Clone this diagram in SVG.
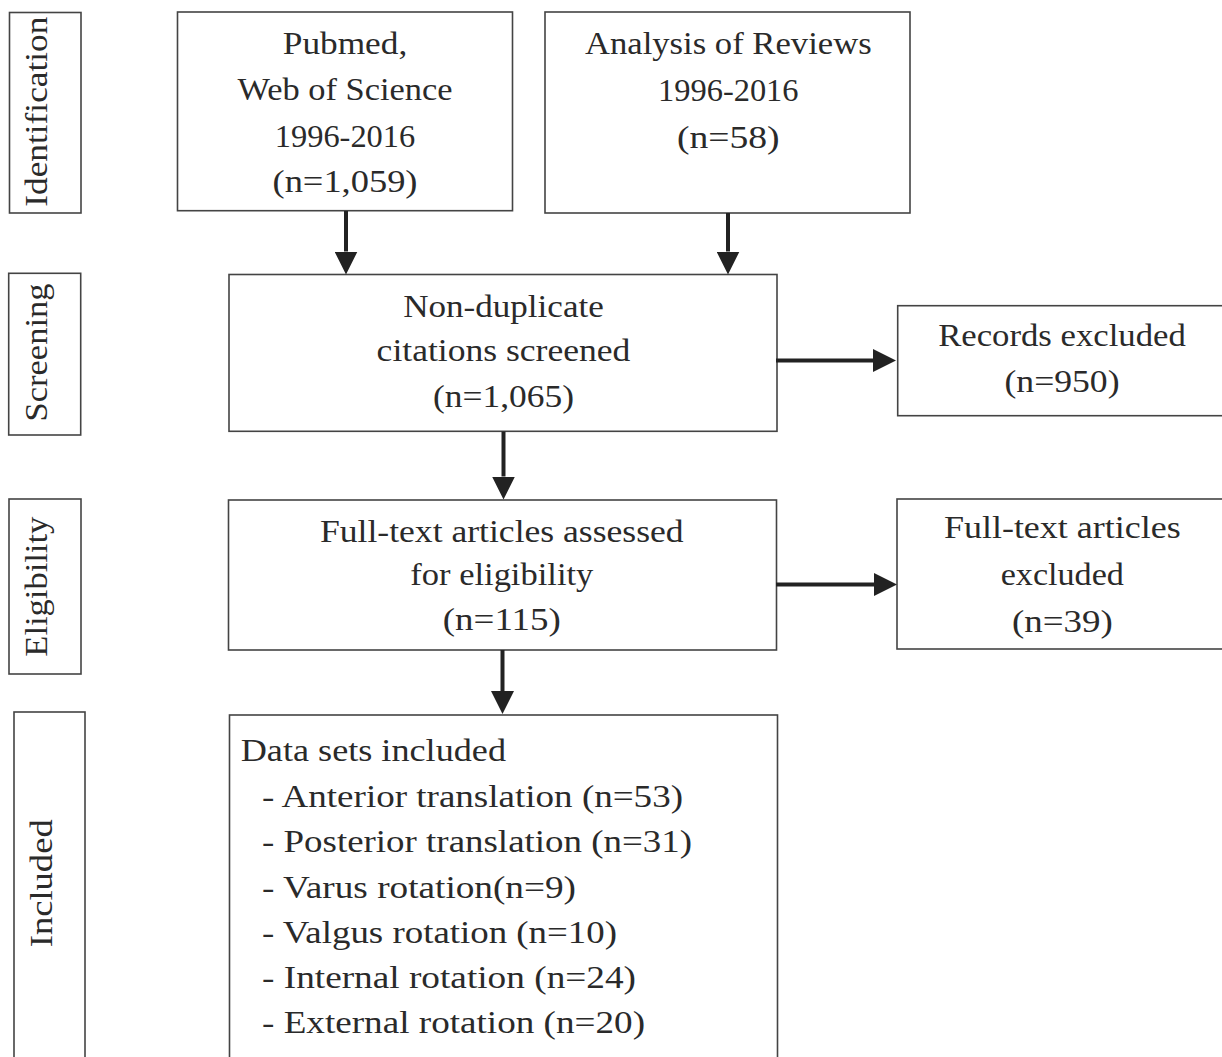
<svg xmlns="http://www.w3.org/2000/svg" width="1222" height="1057" viewBox="0 0 1222 1057">
<style>
  rect.box { fill: none; stroke: #444; stroke-width: 1.6; }
  text { font-family: "Liberation Serif", "Times New Roman", serif; font-size: 32.5px; fill: #2a2a2a; }
  text.c { text-anchor: middle; }
  line.conn { stroke: #222; stroke-width: 4; }
</style>
<defs>
  <marker id="ah" markerUnits="userSpaceOnUse" markerWidth="23" markerHeight="23" viewBox="0 0 23 23" refX="0" refY="11.5" orient="auto">
    <path d="M0,0 L23,11.5 L0,23 Z" fill="#222"/>
  </marker>
</defs>
<rect x="0" y="0" width="1222" height="1057" fill="#fff"/>

<g id="lab-identification">
  <rect class="box" x="9.5" y="12.5" width="71.5" height="200.5"/>
  <text class="c" transform="translate(47,111.7) rotate(-90)" textLength="190" lengthAdjust="spacingAndGlyphs">Identification</text>
</g>
<g id="lab-screening">
  <rect class="box" x="8.7" y="273.3" width="72" height="161.7"/>
  <text class="c" transform="translate(47,352.5) rotate(-90)" textLength="138" lengthAdjust="spacingAndGlyphs">Screening</text>
</g>
<g id="lab-eligibility">
  <rect class="box" x="9" y="499" width="72" height="175"/>
  <text class="c" transform="translate(47,586.7) rotate(-90)" textLength="140" lengthAdjust="spacingAndGlyphs">Eligibility</text>
</g>
<g id="lab-included">
  <rect class="box" x="14" y="712" width="71" height="360"/>
  <text class="c" transform="translate(51.7,883.3) rotate(-90)" textLength="128" lengthAdjust="spacingAndGlyphs">Included</text>
</g>

<g id="node-pubmed">
  <rect class="box" x="177.5" y="12" width="335" height="198.7"/>
  <text class="c" x="345" y="54" textLength="124.5" lengthAdjust="spacingAndGlyphs">Pubmed,</text>
  <text class="c" x="345" y="100" textLength="215" lengthAdjust="spacingAndGlyphs">Web of Science</text>
  <text class="c" x="345" y="146.5" textLength="140.5" lengthAdjust="spacingAndGlyphs">1996-2016</text>
  <text class="c" x="345" y="192" textLength="145" lengthAdjust="spacingAndGlyphs">(n=1,059)</text>
</g>
<g id="node-analysis">
  <rect class="box" x="545" y="12" width="365" height="201"/>
  <text class="c" x="728.3" y="54" textLength="286.7" lengthAdjust="spacingAndGlyphs">Analysis of Reviews</text>
  <text class="c" x="728.3" y="101" textLength="140.5" lengthAdjust="spacingAndGlyphs">1996-2016</text>
  <text class="c" x="728.3" y="147.5" textLength="102.7" lengthAdjust="spacingAndGlyphs">(n=58)</text>
</g>
<g id="node-screened">
  <rect class="box" x="229" y="274.5" width="548" height="156.8"/>
  <text class="c" x="503.5" y="316.7" textLength="200.6" lengthAdjust="spacingAndGlyphs">Non-duplicate</text>
  <text class="c" x="503.5" y="361" textLength="253.8" lengthAdjust="spacingAndGlyphs">citations screened</text>
  <text class="c" x="503.5" y="406.7" textLength="141" lengthAdjust="spacingAndGlyphs">(n=1,065)</text>
</g>
<g id="node-records-excluded">
  <rect class="box" x="897.7" y="305.7" width="330" height="110"/>
  <text class="c" x="1062" y="346" textLength="247.7" lengthAdjust="spacingAndGlyphs">Records excluded</text>
  <text class="c" x="1062" y="392" textLength="115" lengthAdjust="spacingAndGlyphs">(n=950)</text>
</g>
<g id="node-assessed">
  <rect class="box" x="228.5" y="500" width="548" height="150"/>
  <text class="c" x="501.8" y="541.7" textLength="363.6" lengthAdjust="spacingAndGlyphs">Full-text articles assessed</text>
  <text class="c" x="501.8" y="585" textLength="183" lengthAdjust="spacingAndGlyphs">for eligibility</text>
  <text class="c" x="501.8" y="630" textLength="118" lengthAdjust="spacingAndGlyphs">(n=115)</text>
</g>
<g id="node-fulltext-excluded">
  <rect class="box" x="897" y="499" width="330" height="150"/>
  <text class="c" x="1062.3" y="538" textLength="236.7" lengthAdjust="spacingAndGlyphs">Full-text articles</text>
  <text class="c" x="1062.3" y="585" textLength="123.3" lengthAdjust="spacingAndGlyphs">excluded</text>
  <text class="c" x="1062.3" y="632" textLength="100.8" lengthAdjust="spacingAndGlyphs">(n=39)</text>
</g>
<g id="node-included">
  <rect class="box" x="229.5" y="715" width="548" height="360"/>
  <text x="240.7" y="760.7" textLength="265.3" lengthAdjust="spacingAndGlyphs">Data sets included</text>
  <text x="262" y="806.7" textLength="421" lengthAdjust="spacingAndGlyphs">- Anterior translation (n=53)</text>
  <text x="262" y="852.3" textLength="430" lengthAdjust="spacingAndGlyphs">- Posterior translation (n=31)</text>
  <text x="262" y="897.7" textLength="314" lengthAdjust="spacingAndGlyphs">- Varus rotation(n=9)</text>
  <text x="262" y="942.7" textLength="355" lengthAdjust="spacingAndGlyphs">- Valgus rotation (n=10)</text>
  <text x="262" y="988.3" textLength="374" lengthAdjust="spacingAndGlyphs">- Internal rotation (n=24)</text>
  <text x="262" y="1033.3" textLength="383" lengthAdjust="spacingAndGlyphs">- External rotation (n=20)</text>
</g>

<g id="connectors">
  <line class="conn" x1="346" y1="211" x2="346" y2="251.5" marker-end="url(#ah)"/>
  <line class="conn" x1="728" y1="213" x2="728" y2="251.5" marker-end="url(#ah)"/>
  <line class="conn" x1="776" y1="360.5" x2="873" y2="360.5" marker-end="url(#ah)"/>
  <line class="conn" x1="503.5" y1="431.5" x2="503.5" y2="476.5" marker-end="url(#ah)"/>
  <line class="conn" x1="776" y1="584.5" x2="874" y2="584.5" marker-end="url(#ah)"/>
  <line class="conn" x1="502.5" y1="650" x2="502.5" y2="691" marker-end="url(#ah)"/>
</g>
</svg>
